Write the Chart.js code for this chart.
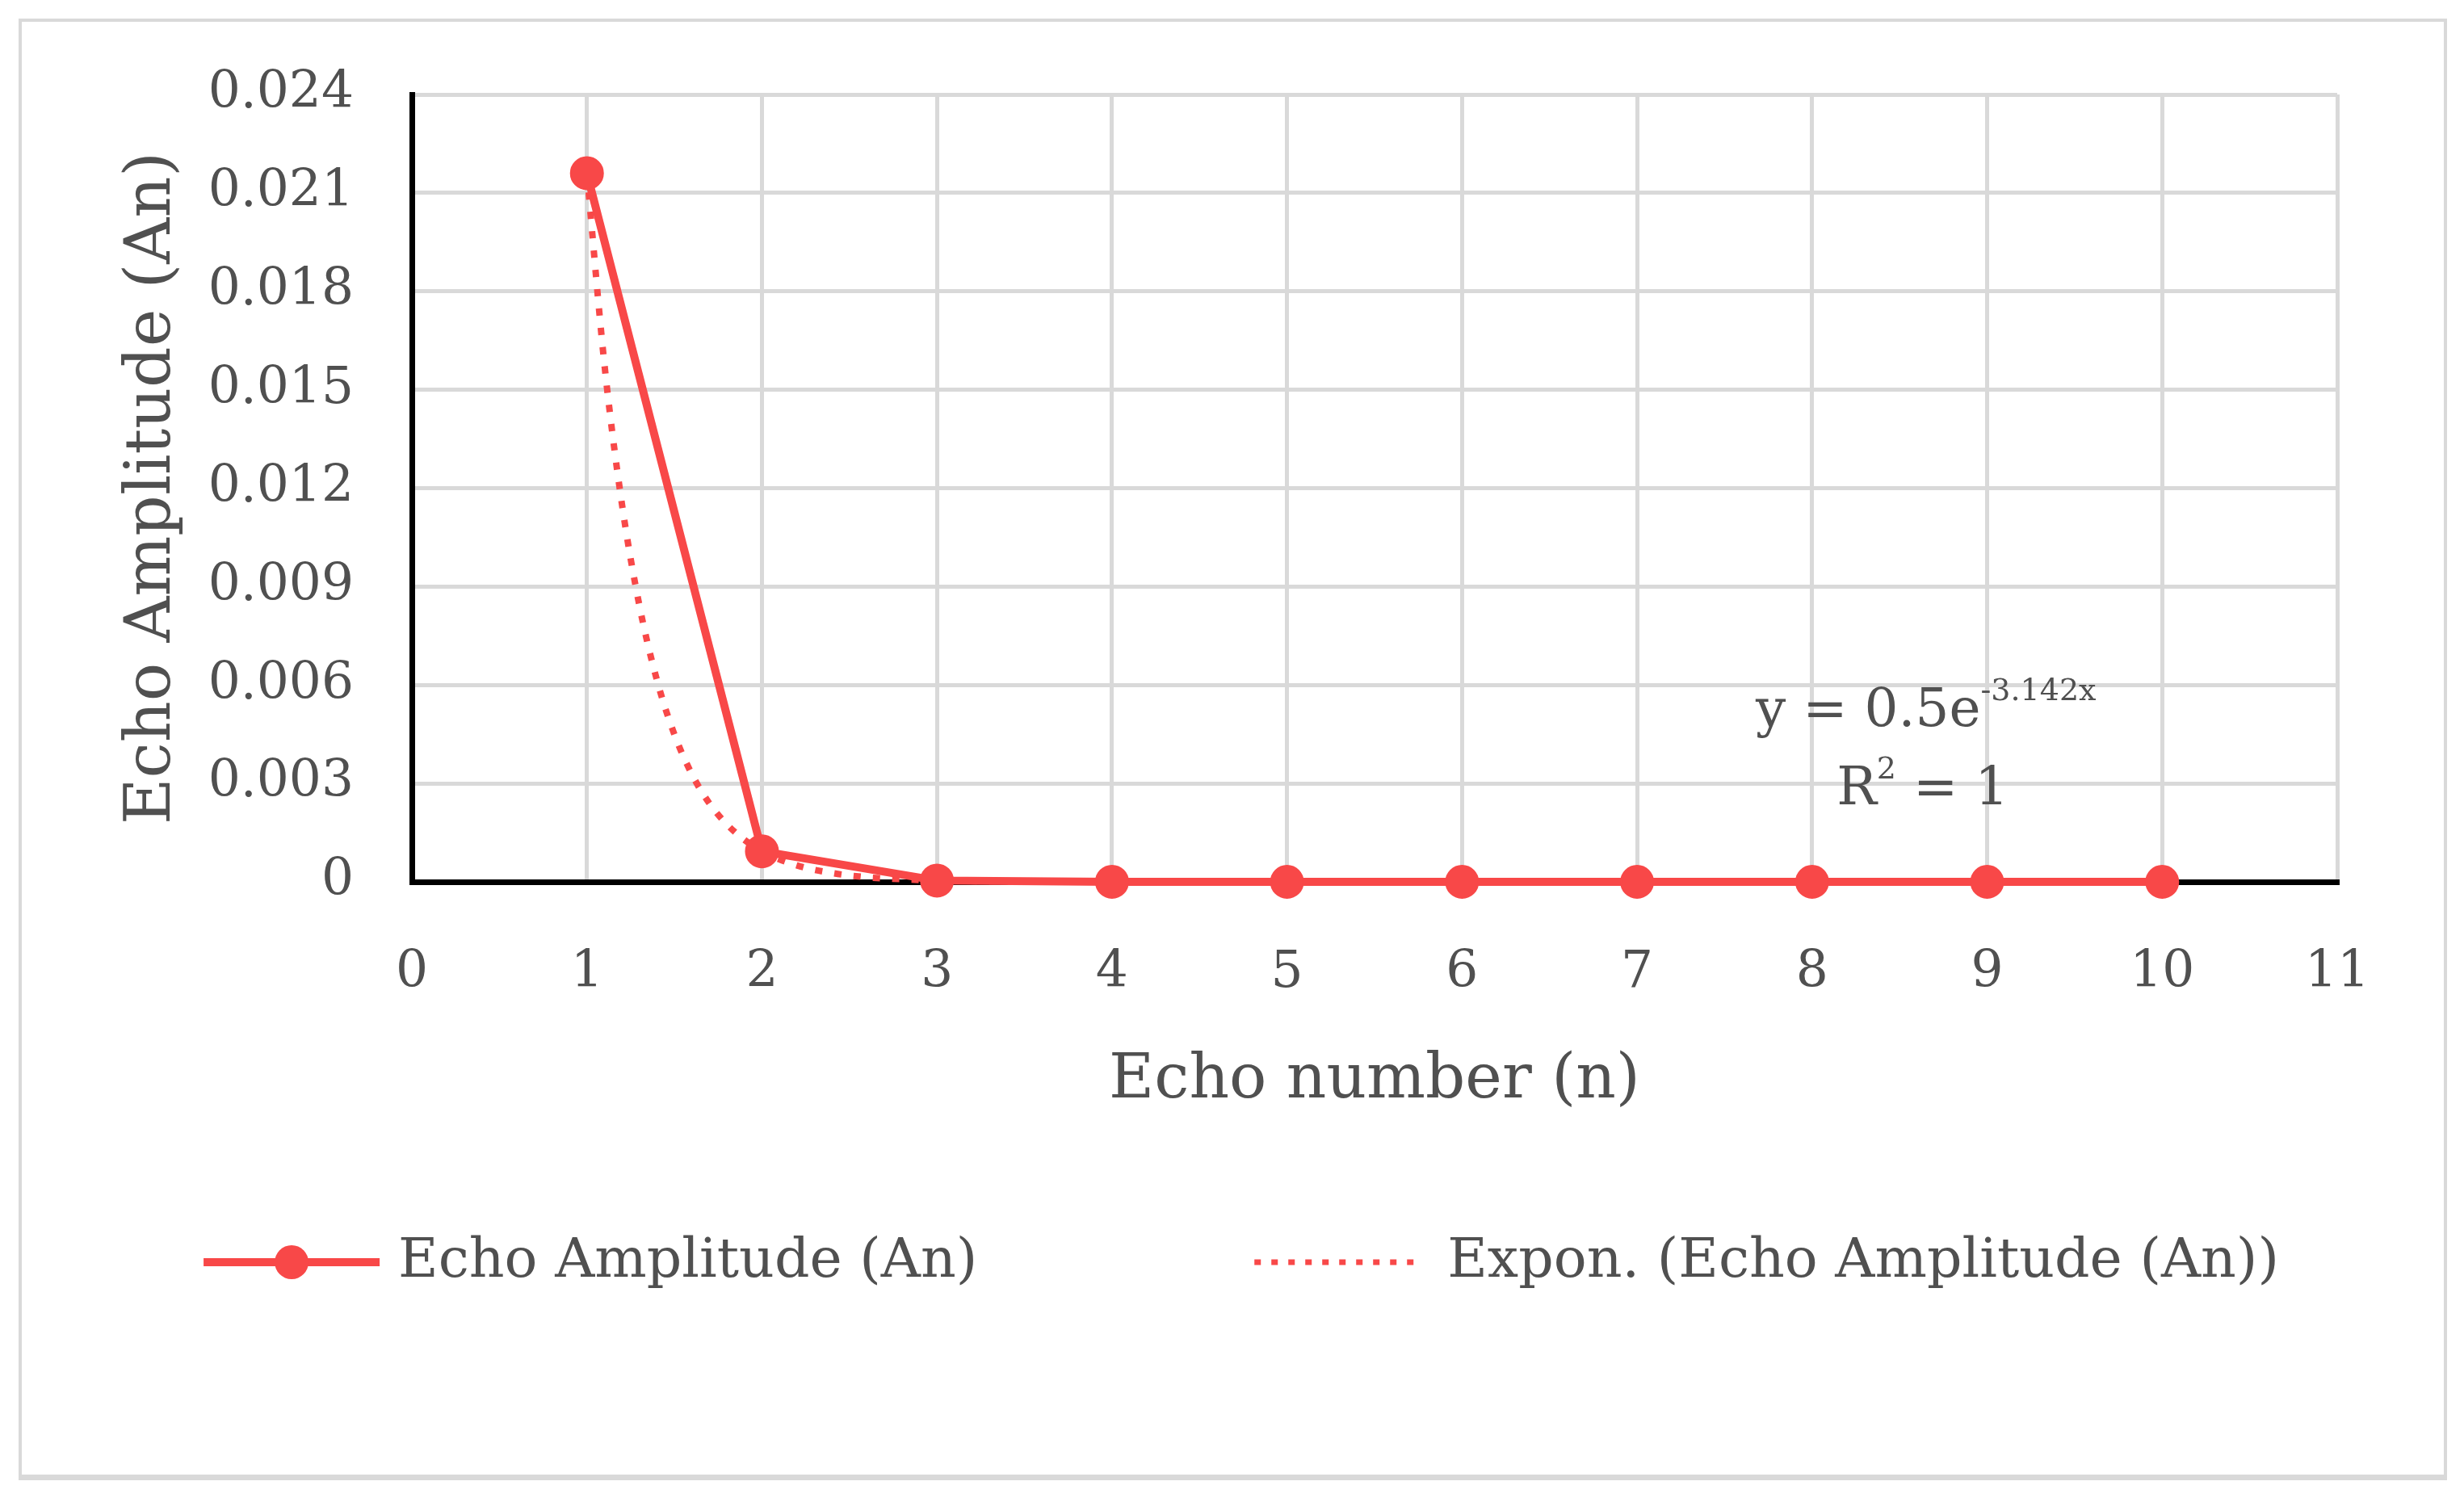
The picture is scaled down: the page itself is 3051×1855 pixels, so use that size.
<!DOCTYPE html>
<html>
<head>
<meta charset="utf-8">
<script src="https://cdn.jsdelivr.net/npm/chart.js@4.4.1/dist/chart.umd.min.js"></script>
<style>
    html, body { margin: 0; padding: 0; background: #fff; }
    #frame { position: absolute; left: 23px; top: 23px; width: 2999px; height: 1799px; border: 4px solid #d9d9d9; border-bottom-width: 7px; }
    #wrap { position: absolute; left: 0; top: 0; width: 3051px; height: 1855px; }
</style>
</head>
<body>
<div id="frame"></div>
<div id="wrap"><canvas id="echo-chart"></canvas></div>
<script>
const seriesNames = ["Echo Amplitude (An)", "Expon. (Echo Amplitude (An))"];
const echoNumbers = [1, 2, 3, 4, 5, 6, 7, 8, 9, 10];
const echoAmplitudes = [0.0216, 0.00093, 0.00004, 0.000002, 0, 0, 0, 0, 0, 0];
const trendX = [1, 1.1, 1.2, 1.3, 1.4, 1.5, 1.6, 1.7, 1.8, 1.9, 2, 2.2, 2.4, 2.6, 2.8, 3, 3.5, 4, 5, 6, 7, 8, 9, 10];
const trendY = [0.0216, 0.01578, 0.01152, 0.00842, 0.00615, 0.00449, 0.00328, 0.00239, 0.00175, 0.00128,
    0.00093, 0.0005, 0.00027, 0.00014, 0.00008, 0.00004, 0.00001, 0.000002, 0, 0, 0, 0, 0, 0];
const xTicks = [0, 1, 2, 3, 4, 5, 6, 7, 8, 9, 10, 11];
const yTicks = [0, 0.003, 0.006, 0.009, 0.012, 0.015, 0.018, 0.021, 0.024];
const yTickLabels = ["0", "0.003", "0.006", "0.009", "0.012", "0.015", "0.018", "0.021", "0.024"];
const equationLine1 = [["y = 0.5e", false], ["-3.142x", true]];
const equationLine2 = [["R", false], ["2", true], [" = 1", false]];

const FONT = '"DejaVu Serif", "Liberation Serif", serif';
const TEXT = "#505050";
const RED = "rgb(248, 72, 72)";
const GRID = "#d9d9d9";

function drawParts(ctx, parts, cx, baseY) {
    const widths = parts.map(([t, sup]) => {
        ctx.font = (sup ? 38 : 66) + "px " + FONT;
        return ctx.measureText(t).width;
    });
    let x = cx - widths.reduce((a, b) => a + b, 0) / 2;
    parts.forEach(([t, sup], i) => {
        ctx.font = (sup ? 38 : 66) + "px " + FONT;
        ctx.fillText(t, x, sup ? baseY - 32 : baseY);
        x += widths[i];
    });
}

// trendline equation text
const equationPlugin = {
    id: "equation",
    afterDraw(chart) {
        const { ctx, scales } = chart;
        const cx = scales.x.getPixelForValue(8.65);
        ctx.save();
        ctx.fillStyle = TEXT;
        ctx.textAlign = "left";
        ctx.textBaseline = "alphabetic";
        drawParts(ctx, equationLine1, cx, scales.y.getPixelForValue(0.00475));
        drawParts(ctx, equationLine2, cx - 4, scales.y.getPixelForValue(0.00236));
        ctx.restore();
    },
};

// excel style legend: line+marker, dotted trendline
const legendPlugin = {
    id: "excelLegend",
    afterDraw(chart) {
        const ctx = chart.ctx;
        const y = 1563;
        ctx.save();
        ctx.font = "68px " + FONT;
        const t1 = ctx.measureText(seriesNames[0]).width;
        const t2 = ctx.measureText(seriesNames[1]).width;
        const total = 218 + 23 + t1 + 343 + 206 + 33 + t2;
        let x = 1537 - total / 2;

        ctx.strokeStyle = RED;
        ctx.fillStyle = RED;
        ctx.lineWidth = 10;
        ctx.beginPath();
        ctx.moveTo(x, y);
        ctx.lineTo(x + 218, y);
        ctx.stroke();
        ctx.beginPath();
        ctx.arc(x + 109, y, 21, 0, Math.PI * 2);
        ctx.fill();
        x += 218 + 23;

        ctx.fillStyle = TEXT;
        ctx.textBaseline = "middle";
        ctx.fillText(seriesNames[0], x, y);
        x += t1 + 343;

        ctx.lineWidth = 7;
        ctx.setLineDash([8, 13]);
        ctx.beginPath();
        ctx.moveTo(x, y);
        ctx.lineTo(x + 206, y);
        ctx.stroke();
        ctx.setLineDash([]);
        x += 206 + 33;

        ctx.fillText(seriesNames[1], x, y);
        ctx.restore();
    },
};

const gridColor = (c) => (c.tick && c.tick.value === 0 ? "rgba(0,0,0,0)" : GRID);

const echoCtx = document.getElementById("echo-chart");

let echoChart = new Chart(echoCtx, {
    type: "line",
    data: {
        datasets: [
            {
                label: seriesNames[0],
                data: echoNumbers.map((n, i) => ({ x: n, y: echoAmplitudes[i] })),
                borderColor: RED,
                backgroundColor: RED,
                borderWidth: 10,
                pointRadius: 20,
                pointBorderWidth: 2,
                pointBackgroundColor: RED,
                pointBorderColor: RED,
                clip: false,
            },
            {
                label: seriesNames[1],
                data: trendX.map((v, i) => ({ x: v, y: trendY[i] })),
                borderColor: RED,
                backgroundColor: RED,
                borderWidth: 8,
                borderDash: [9, 15],
                pointRadius: 0,
                cubicInterpolationMode: "monotone",
                clip: false,
            },
        ],
    },
    options: {
        responsive: true,
        maintainAspectRatio: false,
        devicePixelRatio: 1,
        animation: false,
        layout: {
            padding: { left: 180, right: 157, top: 117, bottom: 455 },
        },
        plugins: {
            tooltip: { enabled: false },
            legend: { display: false },
        },
        scales: {
            x: {
                type: "linear",
                min: 0,
                max: 11,
                afterBuildTicks: (s) => {
                    s.ticks = xTicks.map((v) => ({ value: v }));
                },
                afterFit: (s) => {
                    s.height = 308;
                },
                grid: { color: gridColor, lineWidth: 5, drawTicks: false },
                border: { color: "#000", width: 7 },
                ticks: {
                    autoSkip: false,
                    maxRotation: 0,
                    padding: 76,
                    color: TEXT,
                    font: { family: FONT, size: 63 },
                },
                title: {
                    display: true,
                    text: "Echo number (n)",
                    color: TEXT,
                    font: { family: FONT, size: 77 },
                    padding: { top: 0, bottom: 15 },
                },
            },
            y: {
                type: "linear",
                min: 0,
                max: 0.024,
                afterBuildTicks: (s) => {
                    s.ticks = yTicks.map((v) => ({ value: v }));
                },
                afterFit: (s) => {
                    s.width = 330;
                },
                grid: { color: gridColor, lineWidth: 5, drawTicks: false },
                border: { color: "#000", width: 7 },
                ticks: {
                    autoSkip: false,
                    padding: 72,
                    color: TEXT,
                    font: { family: FONT, size: 63 },
                    callback: (value, index) => yTickLabels[index],
                },
                title: {
                    display: true,
                    text: "Echo Amplitude (An)",
                    color: TEXT,
                    font: { family: FONT, size: 79 },
                    padding: { top: -38, bottom: 0 },
                },
            },
        },
    },
    plugins: [equationPlugin, legendPlugin],
});
</script>
</body>
</html>
